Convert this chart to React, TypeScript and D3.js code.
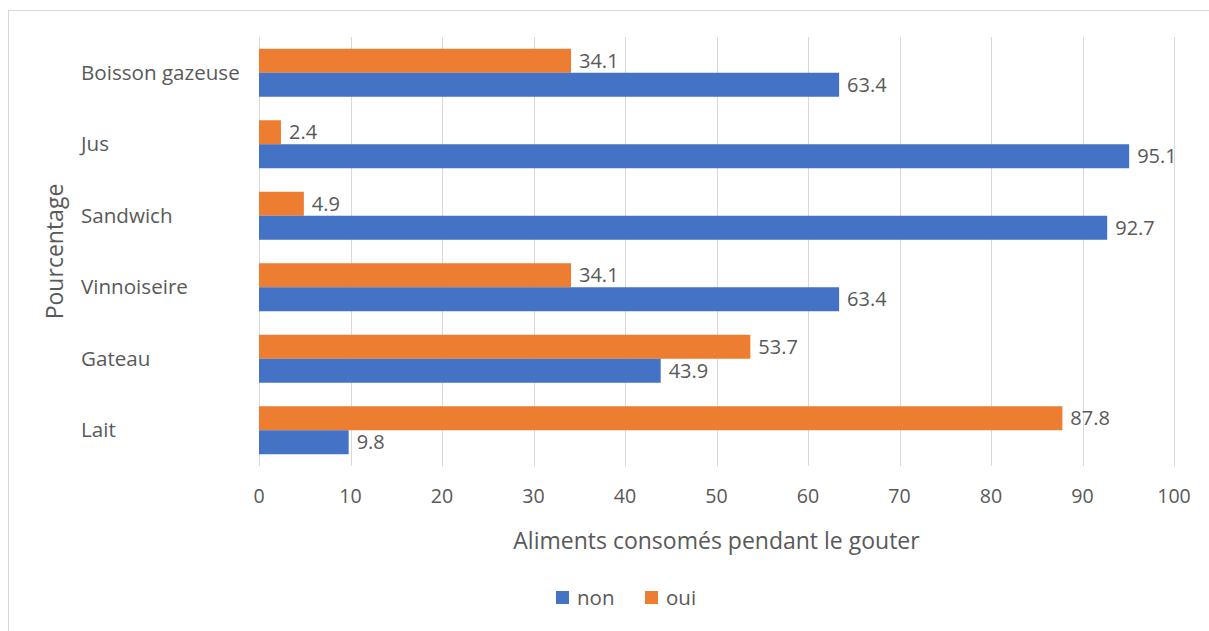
import React from "react";
import * as d3 from "d3";

const categories = ["Boisson gazeuse", "Jus", "Sandwich", "Vinnoiseire", "Gateau", "Lait"];
const nonValues = [63.4, 95.1, 92.7, 63.4, 43.9, 9.8];
const ouiValues = [34.1, 2.4, 4.9, 34.1, 53.7, 87.8];
const xTicks = [0, 10, 20, 30, 40, 50, 60, 70, 80, 90, 100];
const seriesNames = ["oui", "non"];
const legendNames = ["non", "oui"];

const COLORS: Record<string, string> = { non: "#4472C4", oui: "#ED7D31" };
const TEXT = "#595959";
const FONT = "'Open Sans', 'Noto Sans', sans-serif";

export default function App() {
  const W = 1209, H = 631;
  const left = 259, right = 1174, top = 37, bottom = 466;
  const x = d3.scaleLinear().domain([0, 100]).range([left, right]);
  const y = d3.scaleBand<string>().domain(categories).range([top, bottom]).padding(0);
  const step = y.bandwidth();
  const inner = d3.scaleBand<string>().domain(seriesNames).range([step / 2 - 24, step / 2 + 24]).padding(0);

  const rows = categories.map((c, i) => ({ c, oui: ouiValues[i], non: nonValues[i] }));

  return (
    <svg width={W} height={H} style={{ position: "absolute", left: 0, top: 0, background: "#fff" }} fontFamily={FONT}>
      <rect x={8.5} y={10.5} width={1220} height={700} fill="#fff" stroke="#d9d9d9" strokeWidth={1} />
      {xTicks.map((t) => (
        <line key={"g" + t} x1={Math.round(x(t)) + 0.5} x2={Math.round(x(t)) + 0.5} y1={top} y2={bottom} stroke="#d9d9d9" strokeWidth={1} />
      ))}
      {rows.map((r) => (
        <g key={r.c} transform={`translate(0,${y(r.c)})`}>
          {seriesNames.map((s) => {
            const v = (r as any)[s] as number;
            const yy = inner(s)!;
            return (
              <g key={s}>
                <rect x={x(0)} y={yy} width={x(v) - x(0)} height={inner.bandwidth()} fill={COLORS[s]} />
                <text x={x(v) + 8} y={yy + inner.bandwidth() / 2} dy="0.36em" fontSize={20} fill={TEXT}>
                  {v.toFixed(1)}
                </text>
              </g>
            );
          })}
          <text x={81} y={step / 2} dy="0.35em" fontSize={20.6} fill={TEXT}>{r.c}</text>
        </g>
      ))}
      {xTicks.map((t) => (
        <text key={"t" + t} x={x(t)} y={496} dy="0.35em" textAnchor="middle" fontSize={19.6} fill={TEXT}>{t}</text>
      ))}
      <text x={(left + right) / 2} y={541} dy="0.35em" textAnchor="middle" fontSize={23} fill={TEXT}>
        Aliments consomés pendant le gouter
      </text>
      <text transform={`translate(55,${(top + bottom) / 2}) rotate(-90)`} dy="0.35em" textAnchor="middle" fontSize={23} fill={TEXT}>
        Pourcentage
      </text>
      {legendNames.map((n, i) => {
        const lx = 556 + i * 89;
        return (
          <g key={n}>
            <rect x={lx} y={591} width={13} height={13} fill={COLORS[n]} />
            <text x={lx + 21} y={598} dy="0.35em" fontSize={20.5} fill={TEXT}>{n}</text>
          </g>
        );
      })}
    </svg>
  );
}
